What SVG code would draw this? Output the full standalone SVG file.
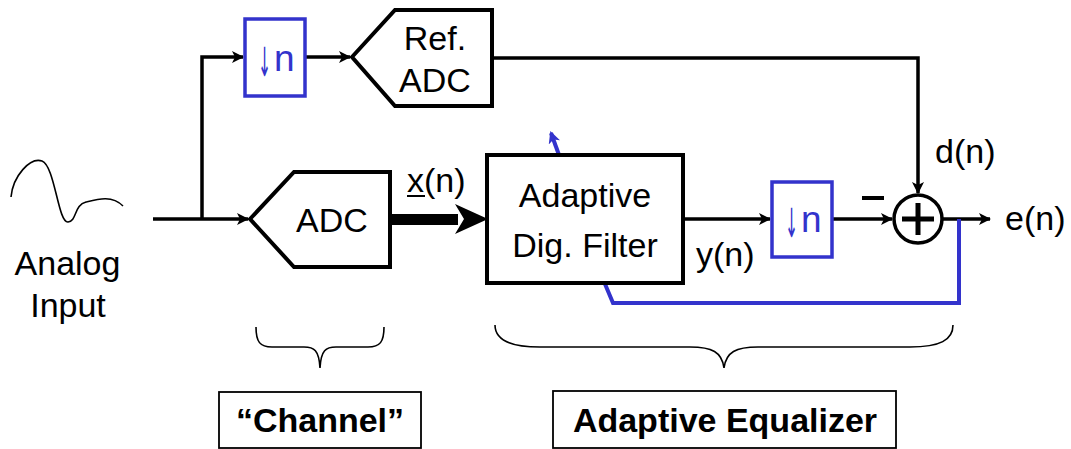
<svg xmlns="http://www.w3.org/2000/svg" width="1071" height="449" viewBox="0 0 1071 449">
<style>
text{font-family:"Liberation Sans",Arial,sans-serif;font-size:34px;fill:#000}
.b{font-weight:bold}
.blue{fill:#3333cc}
.arr{font-family:"DejaVu Sans",sans-serif;font-size:40px}
.nn{font-size:37px}
.node{fill:#fff;stroke:#000;stroke-width:4}
.bnode{fill:#fff;stroke:#3333cc;stroke-width:3.5}
.wire{fill:none;stroke:#000;stroke-width:3.5}
.bwire{fill:none;stroke:#3333cc;stroke-width:4}
.thin{fill:none;stroke:#000;stroke-width:1.6}
.lbl{fill:#fff;stroke:#000;stroke-width:1.8}
</style>
<defs>
<marker id="ah" markerWidth="12" markerHeight="12" viewBox="0 0 12 12" refX="11" refY="6" orient="auto" markerUnits="userSpaceOnUse">
<path d="M0,0 L12,6 L0,12 L3,6 z" fill="#000"/>
</marker>
<marker id="bh" markerWidth="12" markerHeight="12" viewBox="0 0 12 12" refX="10" refY="6" orient="auto" markerUnits="userSpaceOnUse">
<path d="M0,0 L12,6 L0,12 L3,6 z" fill="#3333cc"/>
</marker>
</defs>

<g id="analog-input">
<path class="thin" d="M11,197 C13,176 30,157 42,161 C55,166 58,223 68,222 C77,221 74,205 86,202 C98,199 112,195 123,206"/>
<text x="67.5" y="275" text-anchor="middle">Analog</text>
<text x="68" y="317" text-anchor="middle">Input</text>
</g>

<g id="connectors">
<path class="wire" d="M153,219 L248,219" marker-end="url(#ah)"/>
<path class="wire" d="M202,219 L202,57 L243,57" marker-end="url(#ah)"/>
<path class="wire" d="M305,57 L350,57" marker-end="url(#ah)"/>
<path class="wire" d="M492,58 L918,58 L918,193" marker-end="url(#ah)"/>
<path d="M390,214 L458,214 L458,225 L390,225 z" fill="#000"/>
<path d="M488,219 L455,204 L464,219 L455,234 z" fill="#000"/>
<path class="wire" d="M683,219 L770,219" marker-end="url(#ah)"/>
<path class="wire" d="M832,219 L892,219" marker-end="url(#ah)"/>
<path class="wire" d="M942,219 L990,219" marker-end="url(#ah)"/>
<path class="bwire" d="M605,284 L613,303 L959,303 L959,219"/>
<path class="bwire" d="M559,155 L551,133" stroke-width="3.5" marker-end="url(#bh)"/>
<path d="M862,198 L884,198" stroke="#000" stroke-width="4"/>
</g>

<g id="downsample-top">
<rect class="bnode" x="245" y="19" width="60" height="77"/>
<text class="blue arr" transform="translate(258,76) scale(0.39,1)">↓</text>
<text class="blue nn" x="274" y="71">n</text>
</g>

<g id="ref-adc">
<polygon class="node" points="352,57 395,10 492,10 492,106 395,106"/>
<text x="435" y="50" text-anchor="middle">Ref.</text>
<text x="435" y="92" text-anchor="middle">ADC</text>
</g>

<g id="adc">
<polygon class="node" points="250,219 294,172 390,172 390,267 294,267"/>
<text x="332" y="232" text-anchor="middle">ADC</text>
</g>

<g id="x-label">
<text x="407" y="192">x(n)</text>
<path d="M407,196 L425,196" stroke="#000" stroke-width="2"/>
</g>

<g id="adaptive-filter">
<rect class="node" x="487" y="155" width="196" height="128"/>
<text x="585" y="207" text-anchor="middle">Adaptive</text>
<text x="585" y="257" text-anchor="middle">Dig. Filter</text>
</g>

<g id="y-label">
<text x="696" y="266">y(n)</text>
</g>

<g id="downsample-bottom">
<rect class="bnode" x="772" y="182" width="60" height="75"/>
<text class="blue arr" transform="translate(785,237) scale(0.39,1)">↓</text>
<text class="blue nn" x="801" y="232">n</text>
</g>

<g id="summer">
<circle cx="918" cy="219" r="24" fill="#fff" stroke="#000" stroke-width="3.5"/>
<path d="M902,219 L934,219 M918,203 L918,235" stroke="#000" stroke-width="5"/>
</g>

<g id="d-label"><text x="935" y="163">d(n)</text></g>
<g id="e-label"><text x="1005" y="230">e(n)</text></g>

<g id="channel-brace">
<path class="thin" d="M256,327 C256,342 260,347 272,347 L304,347 C314,347 319,350 320,368 C321,350 326,347 336,347 L368,347 C380,347 384,342 384,327"/>
</g>
<g id="channel-label">
<rect class="lbl" x="219" y="392" width="202" height="56"/>
<text class="b" x="320" y="432" text-anchor="middle">“Channel”</text>
</g>

<g id="equalizer-brace">
<path class="thin" d="M495,325 C495,340 510,347 540,347 L690,347 C712,347 722,352 724,368 C726,352 736,347 758,347 L910,347 C940,347 953,340 953,325"/>
</g>
<g id="equalizer-label">
<rect class="lbl" x="553" y="391" width="343" height="57"/>
<text class="b" x="725" y="432" text-anchor="middle">Adaptive Equalizer</text>
</g>
</svg>
